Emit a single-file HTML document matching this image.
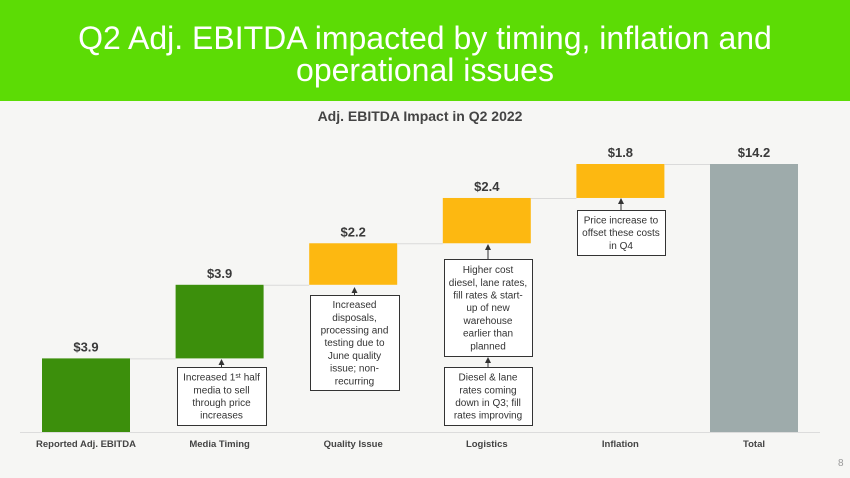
<!DOCTYPE html>
<html><head><meta charset="utf-8">
<style>
body{margin:0;width:850px;height:478px;overflow:hidden;background:#f6f6f4;font-family:"Liberation Sans",sans-serif;}
#hdr{position:absolute;left:0;top:0;width:850px;height:101px;background:#5cdc05;color:#fff;text-align:center;font-size:32px;line-height:32px;}
#hdr div{padding-top:22px;}
</style></head>
<body>
<div id="hdr"><div>Q2 Adj. EBITDA impacted by timing, inflation and<br>operational issues</div></div>
<svg id="chart" width="850" height="478" style="position:absolute;left:0;top:0"></svg>
<script>
const categories=["Reported Adj. EBITDA","Media Timing","Quality Issue","Logistics","Inflation","Total"];
const values=[3.9,3.9,2.2,2.4,1.8,14.2];
const labels=["$3.9","$3.9","$2.2","$2.4","$1.8","$14.2"];
const kinds=["green","green","orange","orange","orange","total"];
const colors={green:"#3c8f0c",orange:"#fdb811",total:"#9eabab"};
const svg=document.getElementById('chart');
const NS="http://www.w3.org/2000/svg";
function mk(t,a,p){const e=document.createElementNS(NS,t);for(const k in a)e.setAttribute(k,a[k]);(p||svg).appendChild(e);return e;}
const base=432, pxPer=268/14.2;
const y=v=>base-v*pxPer;
const x0=42, step=133.6, bw=88;
const xL=i=>x0+i*step;
let t=mk('text',{x:420,y:121,'text-anchor':'middle','font-size':14,'font-weight':'bold',fill:'#444'});
t.textContent="Adj. EBITDA Impact in Q2 2022";


let ax=mk('line',{x1:20,x2:820,y1:base+0.5,y2:base+0.5,stroke:'#dcdcdc','stroke-width':1});


let cum=0;
values.forEach((v,i)=>{
  let lo,hi;
  if(kinds[i]==="total"){lo=0;hi=v;}else{lo=cum;hi=cum+v;cum=hi;}
  const r=mk('rect',{x:xL(i),y:y(hi),width:bw,height:y(lo)-y(hi),fill:colors[kinds[i]]});
  
  
  if(i<values.length-1){
    const c=mk('line',{x1:xL(i)+bw,x2:xL(i+1),y1:y(hi)+0.5,y2:y(hi)+0.5,stroke:'#dadada','stroke-width':1});
    
    
  }
  const vl=mk('text',{x:xL(i)+bw/2,y:y(hi)-7,'text-anchor':'middle','font-size':13,'font-weight':'bold',fill:'#3a3a3a'});
  vl.textContent=labels[i];
  
  
  const cl=mk('text',{x:xL(i)+bw/2,y:447,'text-anchor':'middle','font-size':9.5,'font-weight':'bold',fill:'#444'});
  cl.textContent=categories[i];
  
  
});
const notes=[
 {x:177,y:367,w:89,h:58,to:359,lines:["Increased 1ˢᵗ half","media to sell","through price","increases"]},
 {x:310,y:295,w:89,h:95,to:287,lines:["Increased","disposals,","processing and","testing due to","June quality","issue; non-","recurring"]},
 {x:444,y:259,w:88,h:97,to:244,lines:["Higher cost","diesel, lane rates,","fill rates & start-","up of new","warehouse","earlier than","planned"]},
 {x:444,y:367,w:88,h:58,to:357,lines:["Diesel & lane","rates coming","down in Q3; fill","rates improving"]},
 {x:577,y:210,w:88,h:45,to:198,lines:["Price increase to","offset these costs","in Q4"]}
];
notes.forEach(n=>{
  const g=mk('g',{});
  
  
  mk('rect',{x:n.x+0.5,y:n.y+0.5,width:n.w,height:n.h,fill:'#fff',stroke:'#333','stroke-width':1},g);
  const cx=n.x+n.w/2;
  mk('line',{x1:cx,x2:cx,y1:n.y,y2:n.to+4,stroke:'#333','stroke-width':1},g);
  mk('path',{d:`M${cx-3},${n.to+6}L${cx},${n.to}L${cx+3},${n.to+6}Z`,fill:'#333'},g);
  const lh=12.7, top=n.y+(n.h-n.lines.length*lh)/2+10;
  n.lines.forEach((s,k)=>{
    const tx=mk('text',{x:cx,y:top+k*lh,'text-anchor':'middle','font-size':10,fill:'#333'},g);
    tx.textContent=s;
  });
});
const pg=mk('text',{x:838,y:466,'font-size':10,fill:'#999'});
pg.textContent="8";


</script>
</body></html>
